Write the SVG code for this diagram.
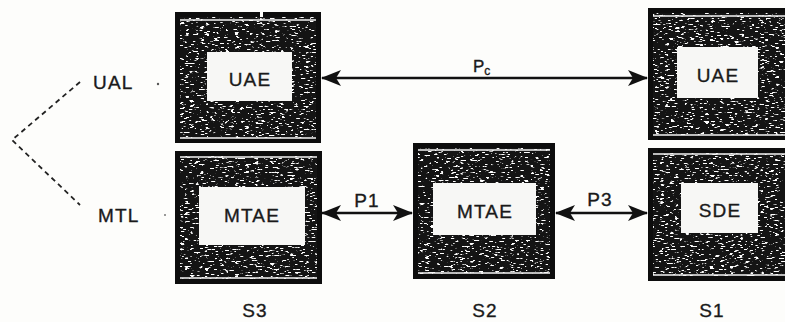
<svg xmlns="http://www.w3.org/2000/svg" width="785" height="322" viewBox="0 0 785 322">
  <defs>
    <filter id="speck" x="0" y="0" width="100%" height="100%" color-interpolation-filters="sRGB">
      <feTurbulence type="fractalNoise" baseFrequency="0.2 0.65" numOctaves="2" seed="7" result="n"/>
      <feColorMatrix in="n" type="matrix" values="0 0 0 0 1  0 0 0 0 1  0 0 0 0 1  14 0 0 0 -8.5" result="w"/>
      <feComposite in="w" in2="SourceGraphic" operator="in" result="wc"/>
      <feMerge>
        <feMergeNode in="SourceGraphic"/>
        <feMergeNode in="wc"/>
      </feMerge>
    </filter>
    <marker id="ah" viewBox="0 0 20 16" refX="19" refY="8" markerWidth="20" markerHeight="16" markerUnits="userSpaceOnUse" orient="auto-start-reverse">
      <path d="M0,0 L20,8 L0,16 L5,8 Z" fill="#111"/>
    </marker>
  </defs>
  <style>
    .frame { fill: #0d0d0d; }
    .tex { fill: #141414; filter: url(#speck); }
    .hl { stroke: #f4f4f4; stroke-width: 1.6; }
    .box { fill: #f7f7f5; }
    .t { font-family: "Liberation Sans", Arial, sans-serif; font-size: 19px; fill: #1a1a1a; stroke: #1a1a1a; stroke-width: 0.35px; letter-spacing: 1.2px; }
    .c { text-anchor: middle; }
    .conn { stroke: #111; stroke-width: 2.6; fill: none; }
    .dash { stroke: #222; stroke-width: 1.8; fill: none; stroke-dasharray: 5 4; }
  </style>
  <rect width="785" height="322" fill="#fdfdfb"/>

  <g id="S3-UAE">
    <rect class="frame" x="175" y="12" width="146" height="131"/>
    <rect class="tex" x="180" y="17" width="136" height="121"/>
    <line class="hl" x1="180" y1="20" x2="316" y2="20"/>
    <line class="hl" x1="180" y1="138" x2="316" y2="138"/>
    <rect x="260" y="11" width="3" height="6" fill="#fdfdfb"/>
    <rect class="box" x="207" y="52" width="85" height="49"/>
    <text class="t c" x="250" y="86">UAE</text>
  </g>

  <g id="S3-MTAE">
    <rect class="frame" x="175" y="151" width="147" height="133"/>
    <rect class="tex" x="180" y="156" width="137" height="123"/>
    <line class="hl" x1="180" y1="157" x2="317" y2="157"/>
    <line class="hl" x1="180" y1="278" x2="317" y2="278"/>
    <rect class="box" x="199" y="187" width="106" height="58"/>
    <text class="t c" x="252" y="222">MTAE</text>
  </g>

  <g id="S2-MTAE">
    <rect class="frame" x="413" y="143" width="142" height="136"/>
    <rect class="tex" x="418" y="148" width="132" height="126"/>
    <line class="hl" x1="418" y1="150" x2="550" y2="150"/>
    <line class="hl" x1="418" y1="273" x2="550" y2="273"/>
    <rect class="box" x="433" y="183" width="103" height="52"/>
    <text class="t c" x="485" y="218">MTAE</text>
  </g>

  <g id="S1-UAE">
    <rect class="frame" x="648" y="8" width="137" height="132"/>
    <rect class="tex" x="653" y="13" width="132" height="122"/>
    <line class="hl" x1="653" y1="16" x2="785" y2="16"/>
    <line class="hl" x1="653" y1="135" x2="785" y2="135"/>
    <rect class="box" x="677" y="47" width="81" height="51"/>
    <text class="t c" x="718" y="82">UAE</text>
  </g>

  <g id="S1-SDE">
    <rect class="frame" x="648" y="148" width="137" height="133"/>
    <rect class="tex" x="653" y="153" width="132" height="123"/>
    <line class="hl" x1="653" y1="154" x2="785" y2="154"/>
    <line class="hl" x1="653" y1="275" x2="785" y2="275"/>
    <rect class="box" x="681" y="183" width="77" height="50"/>
    <text class="t c" x="720" y="217">SDE</text>
  </g>

  <g id="connectors">
    <line class="conn" x1="322" y1="78" x2="647" y2="78" marker-start="url(#ah)" marker-end="url(#ah)"/>
    <line class="conn" x1="322" y1="213" x2="412" y2="213" marker-start="url(#ah)" marker-end="url(#ah)"/>
    <line class="conn" x1="556" y1="213" x2="647" y2="213" marker-start="url(#ah)" marker-end="url(#ah)"/>
    <polyline class="dash" points="80,82 12,140 80,205"/>
  </g>

  <g id="labels">
    <text class="t" x="473" y="72" style="font-size:17px;letter-spacing:0">P<tspan style="font-size:12px" dy="3">c</tspan></text>
    <text class="t c" x="367" y="207">P1</text>
    <text class="t c" x="600" y="206">P3</text>
    <text class="t" x="93" y="89">UAL</text>
    <text class="t" x="98" y="222">MTL</text>
    <circle cx="158" cy="84" r="1.2" fill="#555"/>
    <circle cx="165" cy="215" r="1" fill="#777"/>
    <text class="t c" x="255" y="317">S3</text>
    <text class="t c" x="485" y="317">S2</text>
    <text class="t c" x="712" y="317">S1</text>
  </g>
</svg>
